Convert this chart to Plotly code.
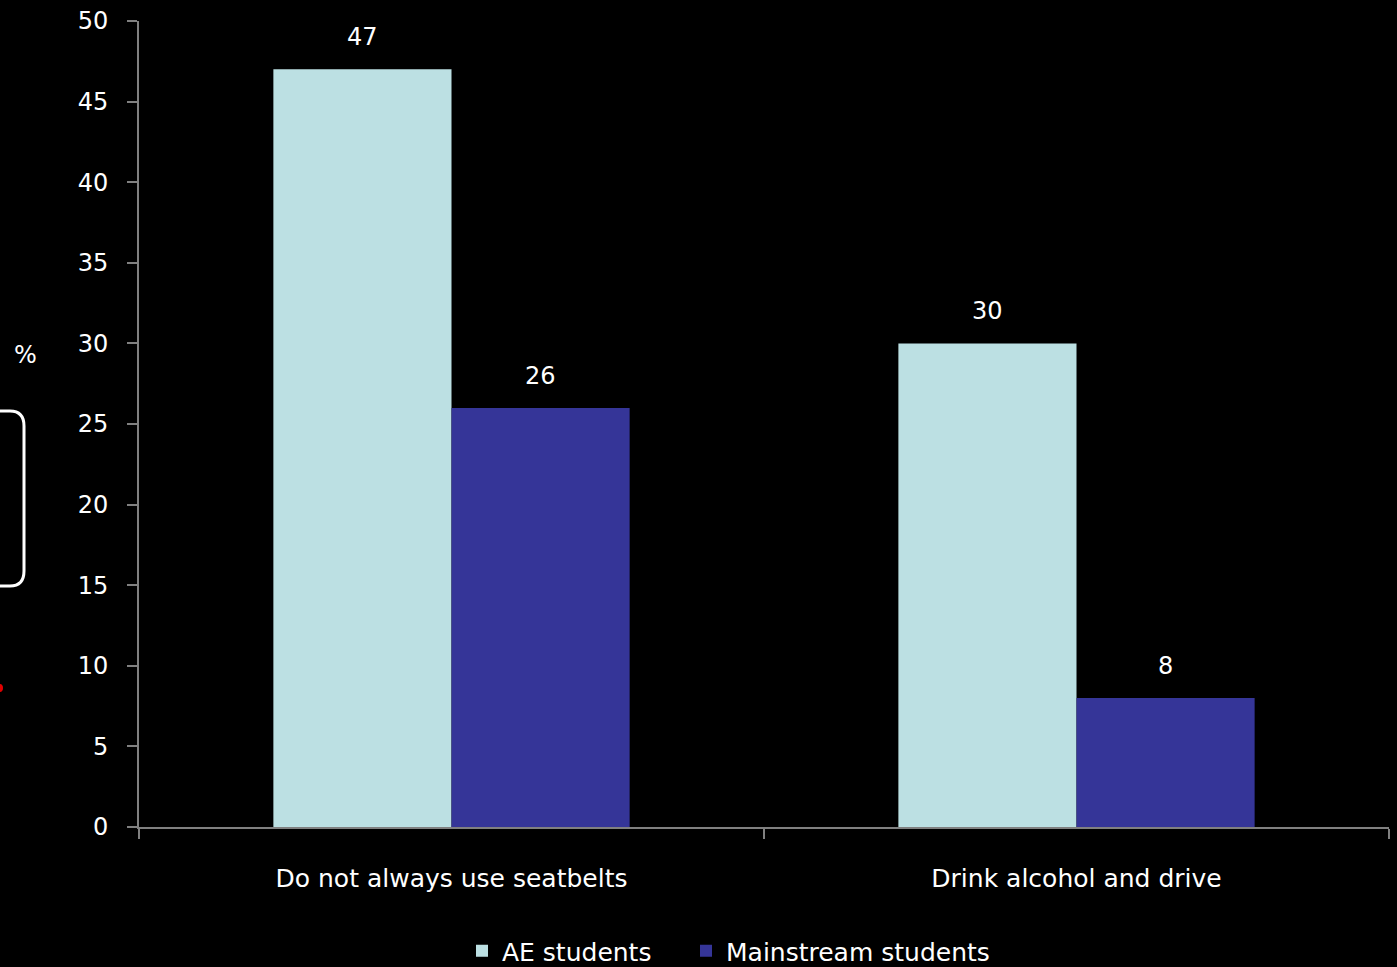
import plotly.graph_objects as go

categories = ["Do not always use seatbelts", "Drink alcohol and drive"]
series_names = ["AE students", "Mainstream students"]
ae_values = [47, 30]
mainstream_values = [26, 8]
y_ticks = [0, 5, 10, 15, 20, 25, 30, 35, 40, 45, 50]

W, H = 1397, 967
L, R, T, B = 139, 8, 21, 140
FONT = "DejaVu Sans"
FS = 24
BARGAP = 0.43

def px(x):
    return (x - L) / (W - L - R)

def py(y):
    return (H - B - y) / (H - B - T)

fig = go.Figure()
fig.add_trace(go.Bar(
    x=categories, y=ae_values, name=series_names[0],
    marker=dict(color="#BCE0E3", line=dict(width=0)), legend="legend",
))
fig.add_trace(go.Bar(
    x=categories, y=mainstream_values, name=series_names[1],
    marker=dict(color="#353598", line=dict(width=0)), legend="legend2",
))

# value labels above the bars
half = (1 - BARGAP) / 4
annotations = []
for vals, off in ((ae_values, -half), (mainstream_values, half)):
    for i, v in enumerate(vals):
        annotations.append(dict(
            x=i + off, y=v, xref="x", yref="y", text=str(v), showarrow=False,
            yanchor="middle", yshift=32, font=dict(size=FS, family=FONT, color="white"),
        ))
annotations.append(dict(text="%", xref="paper", yref="paper", x=px(25), y=py(355),
                        xanchor="center", yanchor="middle", showarrow=False,
                        font=dict(size=FS, family=FONT, color="white")))

# partial rounded box and red mark at the left edge (slide artefacts)
r = 15
path = (f"M {px(-20)},{py(411)} L {px(25 - r)},{py(411)} "
        f"Q {px(24)},{py(411)} {px(24)},{py(411 + r)} "
        f"L {px(24)},{py(586 - r)} Q {px(24)},{py(586)} {px(25 - r)},{py(586)} "
        f"L {px(-20)},{py(586)}")
shapes = [
    dict(type="path", xref="paper", yref="paper", path=path,
         line=dict(color="white", width=3)),
    dict(type="circle", xref="paper", yref="paper",
         x0=px(-4), x1=px(3), y0=py(692), y1=py(684),
         fillcolor="#E00000", line=dict(width=0)),
]

legend_style = dict(orientation="h", xanchor="left", yanchor="middle",
                    font=dict(size=FS + 1, family=FONT, color="white"),
                    bgcolor="rgba(0,0,0,0)")

fig.update_layout(
    width=W, height=H,
    paper_bgcolor="black", plot_bgcolor="black",
    margin=dict(l=L, r=R, t=T, b=B, autoexpand=False),
    barmode="group", bargap=BARGAP, bargroupgap=0,
    font=dict(family=FONT, color="white", size=FS),
    showlegend=True,
    legend=dict(x=px(462), y=py(951), **legend_style),
    legend2=dict(x=px(686), y=py(951), **legend_style),
    shapes=shapes,
    annotations=annotations,
)
fig.update_yaxes(
    range=[0, 50], tickvals=y_ticks, showgrid=False, zeroline=False,
    showline=True, linecolor="#808080", linewidth=2,
    ticks="outside", ticklen=10, tickcolor="#808080", tickwidth=2,
    tickfont=dict(size=FS, family=FONT, color="white"), ticklabelstandoff=14,
)
fig.update_xaxes(
    showgrid=False, zeroline=False, showline=True, linecolor="#808080", linewidth=2,
    ticks="outside", tickson="boundaries", ticklen=10, tickcolor="#808080", tickwidth=2,
    tickfont=dict(size=FS + 1, family=FONT, color="white"), ticklabelstandoff=28,
)

fig.write_html("out.html", config={"displayModeBar": False})

# remove the default page margin so the figure fills the window exactly
with open("out.html", encoding="utf-8") as f:
    html = f.read()
html = html.replace("<body>", '<body style="margin:0;padding:0;background:black;overflow:hidden">', 1)
with open("out.html", "w", encoding="utf-8") as f:
    f.write(html)
